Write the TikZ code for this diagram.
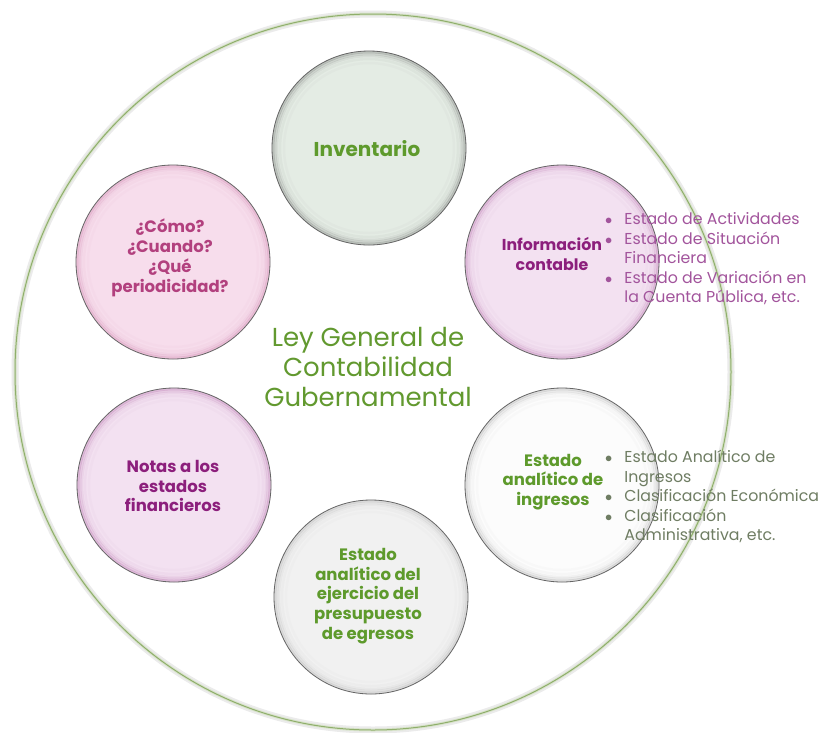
\documentclass[tikz,border=0pt]{standalone}
\usepackage{fontspec}
\setmainfont{Poppins}
\definecolor{ringgreen}{HTML}{8FAE6B}
\definecolor{txtgreen}{HTML}{5E9A2C}
\definecolor{txtcenter}{HTML}{62992F}
\definecolor{txtpink}{HTML}{B2407E}
\definecolor{txtmag}{HTML}{8C1F7C}
\definecolor{txtlist}{HTML}{A2549C}
\definecolor{txtgray}{HTML}{6F7D63}
\definecolor{fillgreen}{HTML}{E4ECE4}
\definecolor{fillpink}{HTML}{F7DDEC}
\definecolor{fillmauve}{HTML}{F3E1F1}
\definecolor{fillwhite}{HTML}{FCFCFC}
\definecolor{fillgray}{HTML}{F1F1F1}
\newcommand{\bub}[4]{%
  \node[bubble=#3] (#1) at (#2) {};
  \foreach \k/\op in {1/0.30,3/0.18,5/0.11,8/0.06,12/0.03}{
    \draw[#4,opacity=\op,line width=2.5pt] (#1.center) circle (97-\k);
  }
  \draw[black!60,line width=0.8pt] (#1.center) circle (97);
}
\begin{document}
\begin{tikzpicture}[x=1pt,y=-1pt,
  bubble/.style={circle,minimum size=194pt,inner sep=0pt,fill=#1},
  title/.style={font=\fontsize{16.5}{19.8}\selectfont\bfseries,align=center,inner sep=0pt},
  blist/.style={anchor=north west,inner sep=0pt,font=\fontsize{15.8}{19.5}\selectfont}
]
\useasboundingbox (0,0) rectangle (822,732);
\fill[white] (0,0) rectangle (822,732);
% outer circle with halo
\coordinate (oc) at (373,372);
\draw[black!8,line width=7pt] (oc) circle (358);
\draw[ringgreen!35,line width=3pt] (oc) circle (358);
\draw[ringgreen,line width=1pt] (oc) circle (358);

\bub{inv}{369,148}{fillgreen}{black!60}
\bub{info}{562,262}{fillmauve}{txtmag!70}
\bub{ingr}{562,485}{fillwhite}{black!40}
\bub{egr}{371,597}{fillgray}{black!35}
\bub{notas}{174,485}{fillmauve}{txtmag!70}
\bub{como}{173,262}{fillpink}{txtpink!70}

% titles
\node[title,text=txtgreen,font=\fontsize{20}{24}\selectfont\bfseries] (tinv) at (367,149) {Inventario};
\node[title,text=txtmag,font=\fontsize{15.8}{19.5}\selectfont\bfseries] (tinfo) at (552,254) {Información\\contable};
\node[title,text=txtgreen] (tingr) at (553,482) {Estado\\analítico de\\ingresos};
\node[title,text=txtgreen] (tegr) at (368,596) {Estado\\analítico del\\ejercicio del\\presupuesto\\de egresos};
\node[title,text=txtmag] (tnotas) at (173,486) {Notas a los\\estados\\financieros};
\node[title,text=txtpink] (tcomo) at (170,258) {¿Cómo?\\¿Cuando?\\¿Qué\\periodicidad?};

% central text
\node[align=center,text=txtcenter,font=\fontsize{26}{30}\selectfont,inner sep=0pt] (ley) at (368,367)
  {Ley General de\\Contabilidad\\Gubernamental};

% lists
\node[blist,text=txtlist] (l1) at (605,211) {%
  \begin{tabular}{@{}l@{\hspace{12pt}}l@{}}
  $\bullet$ & Estado de Actividades\\
  $\bullet$ & Estado de Situación\\
            & Financiera\\
  $\bullet$ & Estado de Variación en\\
            & la Cuenta Pública, etc.
  \end{tabular}};
\node[blist,text=txtgray] (l2) at (605,449) {%
  \begin{tabular}{@{}l@{\hspace{12pt}}l@{}}
  $\bullet$ & Estado Analítico de\\
            & Ingresos\\
  $\bullet$ & Clasificación Económica\\
  $\bullet$ & Clasificación\\
            & Administrativa, etc.
  \end{tabular}};
\end{tikzpicture}
\end{document}
